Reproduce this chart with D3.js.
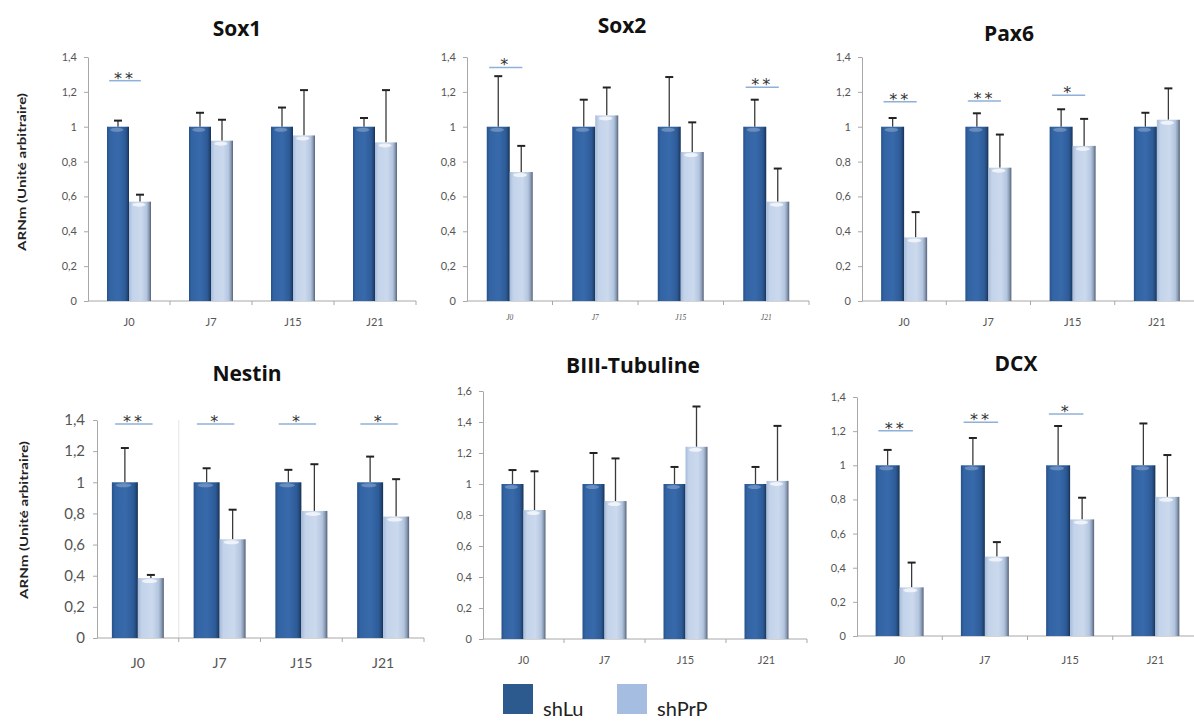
<!DOCTYPE html>
<html>
<head>
<meta charset="utf-8">
<script src="https://cdn.jsdelivr.net/npm/d3@7"></script>
<style>
  html, body { margin: 0; padding: 0; background: #ffffff; }
  svg { display: block; }
</style>
</head>
<body>
<script>
// ---------- DATA ----------
const categories = ["J0", "J7", "J15", "J21"];
const series = ["shLu", "shPrP"];
const yTicksA = [0, 0.2, 0.4, 0.6, 0.8, 1, 1.2, 1.4];
const yTicksB = [0, 0.2, 0.4, 0.6, 0.8, 1, 1.2, 1.4, 1.6];
const yAxisTitle = "ARNm (Unité arbitraire)";

const sox1ShLu = [1, 1, 1, 1];
const sox1ShLuErr = [0.035, 0.08, 0.11, 0.05];
const sox1ShPrP = [0.57, 0.92, 0.95, 0.91];
const sox1ShPrPErr = [0.04, 0.12, 0.26, 0.30];
const sox1Sig = ["**", "", "", ""];
const sox1SigLevel = [1.264, null, null, null];

const sox2ShLu = [1, 1, 1, 1];
const sox2ShLuErr = [0.29, 0.155, 0.285, 0.155];
const sox2ShPrP = [0.74, 1.065, 0.855, 0.57];
const sox2ShPrPErr = [0.15, 0.16, 0.17, 0.19];
const sox2Sig = ["*", "", "", "**"];
const sox2SigLevel = [1.34, null, null, 1.226];

const pax6ShLu = [1, 1, 1, 1];
const pax6ShLuErr = [0.05, 0.077, 0.10, 0.08];
const pax6ShPrP = [0.365, 0.765, 0.89, 1.04];
const pax6ShPrPErr = [0.145, 0.19, 0.155, 0.18];
const pax6Sig = ["**", "**", "*", ""];
const pax6SigLevel = [1.143, 1.147, 1.18, null];

const nestinShLu = [1, 1, 1, 1];
const nestinShLuErr = [0.22, 0.09, 0.08, 0.165];
const nestinShPrP = [0.385, 0.634, 0.816, 0.78];
const nestinShPrPErr = [0.02, 0.19, 0.30, 0.24];
const nestinSig = ["**", "*", "*", "*"];
const nestinSigLevel = [1.374, 1.374, 1.374, 1.374];

const tubShLu = [1, 1, 1, 1];
const tubShLuErr = [0.09, 0.20, 0.11, 0.11];
const tubShPrP = [0.832, 0.89, 1.24, 1.02];
const tubShPrPErr = [0.25, 0.275, 0.26, 0.355];
const tubSig = ["", "", "", ""];
const tubSigLevel = [null, null, null, null];

const dcxShLu = [1, 1, 1, 1];
const dcxShLuErr = [0.09, 0.16, 0.23, 0.245];
const dcxShPrP = [0.285, 0.465, 0.683, 0.815];
const dcxShPrPErr = [0.145, 0.085, 0.127, 0.245];
const dcxSig = ["**", "**", "*", ""];
const dcxSigLevel = [1.203, 1.252, 1.30, null];

// ---------- LAYOUT ----------
const panels = [
  { title: "Sox1", shLu: sox1ShLu, shLuErr: sox1ShLuErr, shPrP: sox1ShPrP, shPrPErr: sox1ShPrPErr, sig: sox1Sig, sigLevel: sox1SigLevel,
    left: 88, right: 416, top: 57, bottom: 301, yMax: 1.4, yTicks: yTicksA, bw: 22,
    titleX: 237, titleY: 36, tickFont: 11, xFont: 11, xLabelY: 326, xStyle: "normal", yTitle: { x: 22, y: 172, size: 12 } },
  { title: "Sox2", shLu: sox2ShLu, shLuErr: sox2ShLuErr, shPrP: sox2ShPrP, shPrPErr: sox2ShPrPErr, sig: sox2Sig, sigLevel: sox2SigLevel,
    left: 467, right: 809, top: 57, bottom: 301, yMax: 1.4, yTicks: yTicksA, bw: 23,
    titleX: 622, titleY: 33, tickFont: 11, xFont: 7.5, xLabelY: 320, xStyle: "italic", yTitle: null },
  { title: "Pax6", shLu: pax6ShLu, shLuErr: pax6ShLuErr, shPrP: pax6ShPrP, shPrPErr: pax6ShPrPErr, sig: pax6Sig, sigLevel: pax6SigLevel,
    left: 862, right: 1199, top: 57, bottom: 301, yMax: 1.4, yTicks: yTicksA, bw: 23,
    titleX: 1009, titleY: 41, tickFont: 11, xFont: 11, xLabelY: 326, xStyle: "normal", yTitle: null },
  { title: "Nestin", shLu: nestinShLu, shLuErr: nestinShLuErr, shPrP: nestinShPrP, shPrPErr: nestinShPrPErr, sig: nestinSig, sigLevel: nestinSigLevel,
    left: 97, right: 424, top: 420, bottom: 638, yMax: 1.4, yTicks: yTicksA, bw: 26,
    titleX: 247, titleY: 381, tickFont: 15, xFont: 14, xLabelY: 668, xStyle: "normal", yTitle: { x: 24, y: 520, size: 12 }, grid: true },
  { title: "BIII-Tubuline", shLu: tubShLu, shLuErr: tubShLuErr, shPrP: tubShPrP, shPrPErr: tubShPrPErr, sig: tubSig, sigLevel: tubSigLevel,
    left: 483, right: 807, top: 391, bottom: 639, yMax: 1.6, yTicks: yTicksB, bw: 22,
    titleX: 633, titleY: 373, tickFont: 11, xFont: 11, xLabelY: 664, xStyle: "normal", yTitle: null },
  { title: "DCX", shLu: dcxShLu, shLuErr: dcxShLuErr, shPrP: dcxShPrP, shPrPErr: dcxShPrPErr, sig: dcxSig, sigLevel: dcxSigLevel,
    left: 857, right: 1198, top: 397, bottom: 636, yMax: 1.4, yTicks: yTicksA, bw: 24,
    titleX: 1016, titleY: 371, tickFont: 11, xFont: 11, xLabelY: 664, xStyle: "normal", yTitle: null }
];

const fontMain = "Lato, 'Open Sans', 'DejaVu Sans', sans-serif";
const fontTitle = "'Open Sans', Lato, 'DejaVu Sans', sans-serif";

const svg = d3.select("body").append("svg").attr("width", 1194).attr("height", 722);
const defs = svg.append("defs");

function grad(id, stops) {
  const g = defs.append("linearGradient").attr("id", id).attr("x1", "0%").attr("x2", "100%").attr("y1", "0%").attr("y2", "0%");
  stops.forEach(([o, c]) => g.append("stop").attr("offset", o).attr("stop-color", c));
}
grad("gLu", [["0%", "#27518a"], ["12%", "#3263a3"], ["50%", "#386aab"], ["82%", "#2e5c99"], ["92%", "#234a7c"], ["100%", "#172f50"]]);
grad("gPrP", [["0%", "#a7bbd9"], ["15%", "#c3d3ea"], ["55%", "#cbd9ed"], ["80%", "#b3c5df"], ["90%", "#8e9fb7"], ["100%", "#56637a"]]);
const fillFor = { shLu: "url(#gLu)", shPrP: "url(#gPrP)" };
const legendColor = { shLu: "#2d5a8e", shPrP: "#a5bde0" };

const fmt = v => d3.format("~g")(v).replace(".", ",");

panels.forEach(p => {
  const g = svg.append("g");
  const x = d3.scaleBand().domain(categories).range([p.left, p.right]);
  const xs = d3.scaleBand().domain(series).range([-p.bw, p.bw]);
  const y = d3.scaleLinear().domain([0, p.yMax]).range([p.bottom, p.top]);

  // title
  g.append("text").attr("x", p.titleX).attr("y", p.titleY).attr("text-anchor", "middle")
    .attr("font-family", fontTitle).attr("font-weight", "bold").attr("font-size", 21).attr("fill", "#111")
    .text(p.title);

  // faint grid
  if (p.grid) {
    g.append("line").attr("x1", x("J7")).attr("x2", x("J7")).attr("y1", p.top).attr("y2", p.bottom)
      .attr("stroke", "#e4e4e4").attr("stroke-width", 1);
  }

  // y axis
  const ya = g.append("g").attr("transform", `translate(${p.left},0)`)
    .call(d3.axisLeft(y).tickValues(p.yTicks).tickFormat(fmt).tickSize(4).tickSizeOuter(0).tickPadding(p.tickFont > 12 ? 8 : 7));
  ya.select(".domain").attr("stroke", "#a8a8a8");
  ya.selectAll(".tick line").attr("stroke", "#a8a8a8");
  ya.selectAll(".tick text").attr("font-family", fontMain).attr("font-size", p.tickFont).attr("fill", "#555");

  // x axis labels
  const xa = g.append("g").attr("transform", `translate(0,${p.bottom})`)
    .call(d3.axisBottom(x).tickSize(0).tickPadding(0));
  xa.select(".domain").remove();
  xa.selectAll(".tick text").attr("y", p.xLabelY - p.bottom).attr("dy", 0)
    .attr("font-family", p.xStyle === "italic" ? "'Liberation Serif', serif" : fontMain)
    .attr("font-style", p.xStyle).attr("font-size", p.xFont).attr("fill", "#555");

  // x axis line + boundary ticks
  g.append("line").attr("x1", p.left).attr("x2", p.right).attr("y1", p.bottom).attr("y2", p.bottom)
    .attr("stroke", "#a8a8a8");
  categories.forEach(c => {
    const bx = x(c) + x.bandwidth();
    g.append("line").attr("x1", bx).attr("x2", bx).attr("y1", p.bottom).attr("y2", p.bottom + 4).attr("stroke", "#a8a8a8");
  });

  // bars
  const rows = categories.map((c, i) => ({
    c, i,
    vals: [
      { s: "shLu", v: p.shLu[i], e: p.shLuErr[i] },
      { s: "shPrP", v: p.shPrP[i], e: p.shPrPErr[i] }
    ]
  }));
  const grp = g.selectAll(".grp").data(rows).join("g")
    .attr("transform", d => `translate(${x(d.c) + x.bandwidth() / 2},0)`);

  // error bars (behind bars)
  grp.selectAll(".err").data(d => d.vals).join("line")
    .attr("x1", d => xs(d.s) + xs.bandwidth() / 2).attr("x2", d => xs(d.s) + xs.bandwidth() / 2)
    .attr("y1", d => y(d.v)).attr("y2", d => y(d.v + d.e))
    .attr("stroke", "#3a3a3a").attr("stroke-width", 1.3);
  grp.selectAll(".cap").data(d => d.vals).join("line")
    .attr("x1", d => xs(d.s) + xs.bandwidth() / 2 - 4).attr("x2", d => xs(d.s) + xs.bandwidth() / 2 + 4)
    .attr("y1", d => y(d.v + d.e)).attr("y2", d => y(d.v + d.e))
    .attr("stroke", "#222").attr("stroke-width", 2);

  grp.selectAll(".bar").data(d => d.vals).join("rect")
    .attr("x", d => xs(d.s)).attr("width", xs.bandwidth())
    .attr("y", d => y(d.v)).attr("height", d => y(0) - y(d.v))
    .attr("fill", d => fillFor[d.s]);
  grp.selectAll(".hl").data(d => d.vals).join("ellipse")
    .attr("cx", d => xs(d.s) + xs.bandwidth() * 0.45).attr("cy", d => y(d.v) + 3)
    .attr("rx", d => xs.bandwidth() * 0.3).attr("ry", 2)
    .attr("fill", "#ffffff").attr("opacity", d => d.s === "shLu" ? 0.25 : 0.7);

  // significance marks
  rows.forEach(r => {
    const s = p.sig[r.i];
    if (!s) return;
    const cx = x(r.c) + x.bandwidth() / 2 - 4;
    const ly = y(p.sigLevel[r.i]);
    const hw = p.bw * 0.72;
    g.append("line").attr("x1", cx - hw).attr("x2", cx + hw).attr("y1", ly).attr("y2", ly)
      .attr("stroke", "#8fb0d8").attr("stroke-width", 1.5);
    g.append("text").attr("x", cx).attr("y", ly + 3).attr("text-anchor", "middle")
      .attr("font-family", "'DejaVu Sans', sans-serif").attr("font-size", 16).attr("letter-spacing", 3)
      .attr("fill", "#333").text(s);
  });

  // y axis title
  if (p.yTitle) {
    g.append("text").attr("transform", `translate(${p.yTitle.x},${p.yTitle.y}) rotate(-90)`)
      .attr("text-anchor", "middle").attr("dy", "0.35em")
      .attr("font-family", fontMain).attr("font-weight", "bold").attr("font-size", p.yTitle.size).attr("fill", "#222")
      .attr("textLength", 158).attr("lengthAdjust", "spacingAndGlyphs")
      .text(yAxisTitle);
  }
});

// legend
const lg = svg.append("g");
const legendX = [503, 617];
series.forEach((s, i) => {
  lg.append("rect").attr("x", legendX[i]).attr("y", 684).attr("width", 30).attr("height", 30).attr("fill", legendColor[s]);
  lg.append("text").attr("x", legendX[i] + 40).attr("y", 716).attr("font-family", fontMain)
    .attr("font-size", 20).attr("fill", "#222").text(s);
});
</script>
</body>
</html>
